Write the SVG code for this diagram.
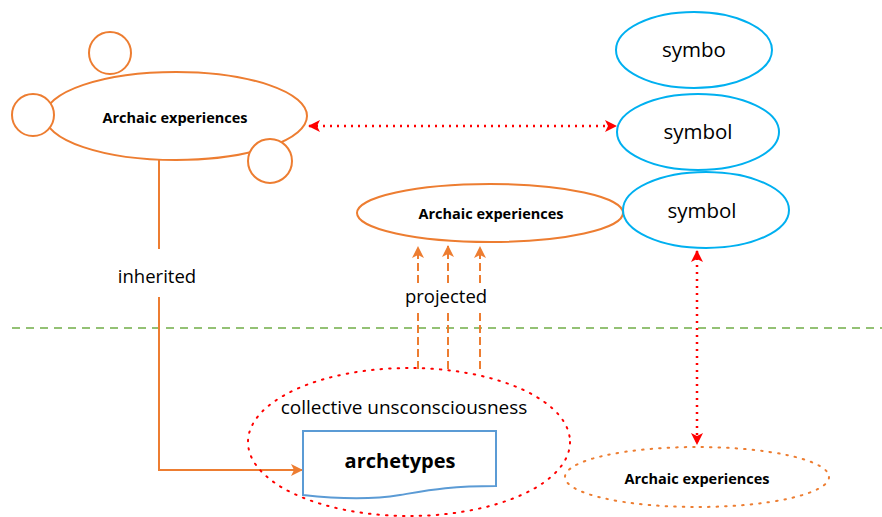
<svg xmlns="http://www.w3.org/2000/svg" width="882" height="517" viewBox="0 0 882 517">
<style>
.t{font-family:"Open Sans","Noto Sans","Liberation Sans",sans-serif;fill:#000;text-anchor:middle}
.b{font-weight:bold}
.or{fill:#fff;stroke:#ED7D31;stroke-width:2}
.bl{fill:#fff;stroke:#00B0F0;stroke-width:2}
.red{stroke:#FF0000;stroke-width:2.5;stroke-dasharray:2 5;fill:none}
</style>
<defs>
<marker id="ar" viewBox="0 0 12 12" refX="11" refY="6" markerWidth="12" markerHeight="12" markerUnits="userSpaceOnUse" orient="auto-start-reverse">
<path d="M0,0 L12,6 L0,12 L3,6 Z" fill="#FF0000"/>
</marker>
<marker id="ao" viewBox="0 0 12 12" refX="11" refY="6" markerWidth="12" markerHeight="12" markerUnits="userSpaceOnUse" orient="auto">
<path d="M0,0 L12,6 L0,12 L3,6 Z" fill="#ED7D31"/>
</marker>
</defs>
<rect width="882" height="517" fill="#fff"/>
<line x1="12" y1="328" x2="882" y2="328" stroke="#70AD47" stroke-width="1.5" stroke-dasharray="8 6"/>
<g id="connectors">
<polyline points="159,160 159,249" fill="none" stroke="#ED7D31" stroke-width="2"/>
<polyline points="159,297 159,470 302,470" fill="none" stroke="#ED7D31" stroke-width="2" marker-end="url(#ao)"/>
<line x1="309" y1="126" x2="616" y2="126" class="red" marker-start="url(#ar)" marker-end="url(#ar)"/>
<line x1="697" y1="251" x2="697" y2="444" class="red" marker-start="url(#ar)" marker-end="url(#ar)"/>
<g stroke="#ED7D31" stroke-width="2" stroke-dasharray="8 4" fill="none">
<line x1="418" y1="283" x2="418" y2="247" marker-end="url(#ao)"/>
<line x1="448" y1="283" x2="448" y2="246" marker-end="url(#ao)"/>
<line x1="480" y1="283" x2="480" y2="247" marker-end="url(#ao)"/>
<line x1="418" y1="313" x2="418" y2="370"/>
<line x1="448" y1="313" x2="448" y2="369"/>
<line x1="480" y1="313" x2="480" y2="370"/>
</g>
<text class="t" x="157" y="283" font-size="18.5">inherited</text>
<text class="t" x="446" y="303" font-size="18.5">projected</text>
</g>
<g id="archaic-main">
<circle class="or" cx="110" cy="53" r="21"/>
<ellipse class="or" cx="176" cy="116" rx="131" ry="44"/>
<circle class="or" cx="33" cy="115" r="21"/>
<circle class="or" cx="270" cy="161" r="22"/>
<text class="t b" x="175" y="123" font-size="14.5">Archaic experiences</text>
</g>
<g id="symbo">
<ellipse class="bl" cx="694" cy="50" rx="78" ry="38"/>
<text class="t" x="694" y="57" font-size="20.5">symbo</text>
</g>
<g id="symbol1">
<ellipse class="bl" cx="698" cy="132" rx="81" ry="38"/>
<text class="t" x="698" y="139" font-size="20.5">symbol</text>
</g>
<g id="archaic-mid">
<ellipse class="or" cx="490" cy="213" rx="133" ry="29"/>
<text class="t b" x="491" y="219" font-size="14.5">Archaic experiences</text>
</g>
<g id="symbol2">
<ellipse class="bl" cx="706" cy="210" rx="83" ry="38"/>
<text class="t" x="702" y="218" font-size="20.5">symbol</text>
</g>
<g id="collective">
<ellipse cx="409" cy="442" rx="161" ry="74" fill="none" stroke="#FF0000" stroke-width="2" stroke-dasharray="1.5 7" stroke-linecap="round"/>
<text class="t" x="404" y="414" font-size="19">collective unsconsciousness</text>
</g>
<g id="archetypes">
<path d="M303,431 H496 V486 C450,486 430,490 400,495 C370,500 330,498 303,495 Z" fill="#fff" stroke="#5B9BD5" stroke-width="2"/>
<text class="t b" x="400" y="468" font-size="20">archetypes</text>
</g>
<g id="archaic-low">
<ellipse cx="697" cy="477" rx="132" ry="30" fill="none" stroke="#ED7D31" stroke-width="2" stroke-dasharray="1.5 7" stroke-linecap="round"/>
<text class="t b" x="697" y="484" font-size="14.5">Archaic experiences</text>
</g>
</svg>
